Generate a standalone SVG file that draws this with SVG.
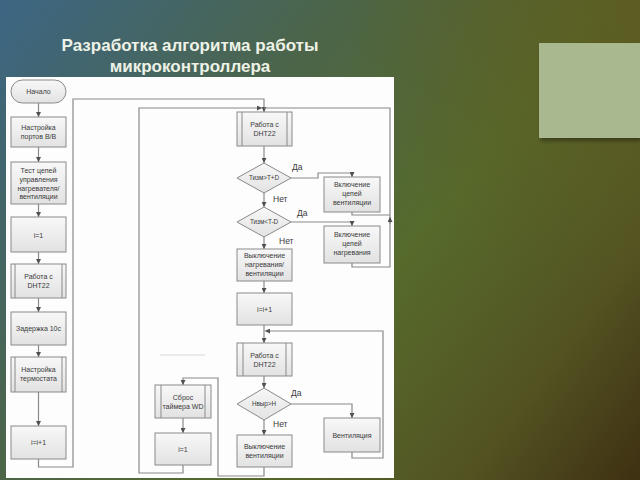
<svg xmlns="http://www.w3.org/2000/svg" width="640" height="480" viewBox="0 0 640 480">
<defs>
<linearGradient id="bg" gradientUnits="userSpaceOnUse" x1="0" y1="0" x2="640" y2="480">
<stop offset="0" stop-color="#3c6684"/>
<stop offset="0.35" stop-color="#4c6548"/>
<stop offset="0.6" stop-color="#566a2c"/>
<stop offset="0.82" stop-color="#535322"/>
<stop offset="1" stop-color="#3e3012"/>
</linearGradient>
<radialGradient id="tr" cx="640" cy="0" r="300" gradientUnits="userSpaceOnUse">
<stop offset="0" stop-color="#5e5a20" stop-opacity="0.8"/>
<stop offset="1" stop-color="#5e5a20" stop-opacity="0"/>
</radialGradient>
<linearGradient id="box" x1="0" y1="0" x2="0" y2="1">
<stop offset="0" stop-color="#f8f8f8"/>
<stop offset="1" stop-color="#e2e2e2"/>
</linearGradient>
<marker id="ah" viewBox="0 0 10 10" refX="10" refY="5" markerWidth="5" markerHeight="5" markerUnits="userSpaceOnUse" orient="auto">
<path d="M0,0 L10,5 L0,10 z" fill="#505050"/>
</marker>
<filter id="sh" x="-10%" y="-10%" width="130%" height="130%">
<feDropShadow dx="2" dy="3" stdDeviation="2" flood-color="#000" flood-opacity="0.35"/>
</filter>
</defs>
<style>
.n{fill:url(#box);stroke:#8a8a8a;stroke-width:1}
.il{stroke:#8a8a8a;stroke-width:1;fill:none}
.c{fill:none;stroke:#8a8a8a;stroke-width:1.2}
.t{font-family:"Liberation Sans",Arial,sans-serif;font-size:7px;fill:#3a3a3a;text-anchor:middle}
.d{font-size:6.3px}
.lb{font-family:"Liberation Sans",Arial,sans-serif;font-size:8.5px;fill:#3a3a3a}
.title{font-family:"Liberation Sans",Arial,sans-serif;font-size:17px;font-weight:bold;fill:#eef2e6;text-anchor:middle}
</style>
<rect x="0" y="0" width="640" height="480" fill="url(#bg)"/>
<rect x="0" y="0" width="640" height="480" fill="url(#tr)"/>
<rect x="539" y="43" width="101" height="95" fill="#a9b88f" filter="url(#sh)"/>
<text class="title" x="190" y="51">Разработка алгоритма работы</text>
<text class="title" x="190" y="72">микроконтроллера</text>
<rect x="6" y="77" width="388" height="401" fill="#fdfdfd"/>
<line x1="160" y1="355" x2="205" y2="355" stroke="#d8d8d8" stroke-width="1"/>

<g id="connectors">
<path class="c" d="M38.5,103 V117" marker-end="url(#ah)"/>
<path class="c" d="M38.5,147 V162" marker-end="url(#ah)"/>
<path class="c" d="M38.5,204 V217" marker-end="url(#ah)"/>
<path class="c" d="M38.5,252 V264" marker-end="url(#ah)"/>
<path class="c" d="M38.5,298 V312" marker-end="url(#ah)"/>
<path class="c" d="M38.5,345 V357" marker-end="url(#ah)"/>
<path class="c" d="M38.5,392 V426" marker-end="url(#ah)"/>
<path class="c" d="M38.5,459 V467 H73 V99 H264 V112" marker-end="url(#ah)"/>
<path class="c" d="M183,465 V473 H139 V108 H262" marker-end="url(#ah)"/>
<path class="c" d="M352,263 V267 H390 V108 H264"/>
<path class="c" d="M352,212 V215 H390"/>
<path class="c" d="M390,224 V217" marker-end="url(#ah)"/>
<path class="c" d="M264,146 V163" marker-end="url(#ah)"/>
<path class="c" d="M291,178 H318 V173 H352 V177" marker-end="url(#ah)"/>
<path class="c" d="M264,193 V207" marker-end="url(#ah)"/>
<path class="c" d="M291,222 H352 V226" marker-end="url(#ah)"/>
<path class="c" d="M264,237 V249" marker-end="url(#ah)"/>
<path class="c" d="M264,281 V293" marker-end="url(#ah)"/>
<path class="c" d="M264,325 V343" marker-end="url(#ah)"/>
<path class="c" d="M352,452 V458 H383 V331 H265" marker-end="url(#ah)"/>
<path class="c" d="M264,376 V388" marker-end="url(#ah)"/>
<path class="c" d="M291,404 H352 V418" marker-end="url(#ah)"/>
<path class="c" d="M264,420 V435" marker-end="url(#ah)"/>
<path class="c" d="M264,467 V476 H218 V378 H183 V385" marker-end="url(#ah)"/>
<path class="c" d="M183,418 V433" marker-end="url(#ah)"/>
<text class="lb" x="292" y="170">Да</text>
<text class="lb" x="273" y="202">Нет</text>
<text class="lb" x="297" y="216">Да</text>
<text class="lb" x="279" y="244">Нет</text>
<text class="lb" x="291" y="396">Да</text>
<text class="lb" x="273" y="427">Нет</text>
</g>

<g id="start">
<rect class="n" x="11" y="80" width="55" height="23" rx="11.5"/>
<text class="t" x="38.5" y="94">Начало</text>
</g>
<g id="ports">
<rect class="n" x="11" y="117" width="55" height="30"/>
<text class="t" x="38.5" y="130">Настройка<tspan x="38.5" dy="9">портов В/В</tspan></text>
</g>
<g id="test">
<rect class="n" x="11" y="162" width="55" height="42"/>
<text class="t" x="38.5" y="173">Тест цепей<tspan x="38.5" dy="8.8">управления</tspan><tspan x="38.5" dy="8.8">нагревателя/</tspan><tspan x="38.5" dy="8.8">вентиляции</tspan></text>
</g>
<g id="i1a">
<rect class="n" x="11" y="217" width="55" height="35"/>
<text class="t" x="38.5" y="237.5">i=1</text>
</g>
<g id="dht1">
<rect class="n" x="11" y="264" width="55" height="34"/>
<line class="il" x1="15" y1="264" x2="15" y2="298"/>
<line class="il" x1="62" y1="264" x2="62" y2="298"/>
<text class="t" x="38.5" y="279">Работа с<tspan x="38.5" dy="9">DHT22</tspan></text>
</g>
<g id="delay">
<rect class="n" x="11" y="312" width="55" height="33"/>
<text class="t" x="38.5" y="331">Задержка 10с</text>
</g>
<g id="thermo">
<rect class="n" x="11" y="357" width="55" height="35"/>
<line class="il" x1="15" y1="357" x2="15" y2="392"/>
<line class="il" x1="62" y1="357" x2="62" y2="392"/>
<text class="t" x="38.5" y="372">Настройка<tspan x="38.5" dy="9">термостата</tspan></text>
</g>
<g id="inc1">
<rect class="n" x="11" y="426" width="55" height="33"/>
<text class="t" x="38.5" y="445">i=i+1</text>
</g>

<g id="dht2">
<rect class="n" x="237" y="112" width="55" height="34"/>
<line class="il" x1="242" y1="112" x2="242" y2="146"/>
<line class="il" x1="287" y1="112" x2="287" y2="146"/>
<text class="t" x="264.5" y="127">Работа с<tspan x="264.5" dy="9">DHT22</tspan></text>
</g>
<g id="dec1">
<polygon class="n" points="237,178 264,163 291,178 264,193"/>
<text class="t d" x="264" y="180.3">Тизм&gt;T+D</text>
</g>
<g id="venton">
<rect class="n" x="324" y="177" width="56" height="35"/>
<text class="t" x="352" y="187">Включение<tspan x="352" dy="9">цепей</tspan><tspan x="352" dy="9">вентиляции</tspan></text>
</g>
<g id="dec2">
<polygon class="n" points="237,222 264,207 291,222 264,237"/>
<text class="t d" x="264" y="224.3">Тизм&lt;T-D</text>
</g>
<g id="heaton">
<rect class="n" x="324" y="226" width="56" height="37"/>
<text class="t" x="352" y="237">Включение<tspan x="352" dy="9">цепей</tspan><tspan x="352" dy="9">нагревания</tspan></text>
</g>
<g id="alloff">
<rect class="n" x="237" y="249" width="55" height="32"/>
<text class="t" x="264.5" y="258">Выключение<tspan x="264.5" dy="9">нагревания/</tspan><tspan x="264.5" dy="9">вентиляции</tspan></text>
</g>
<g id="inc2">
<rect class="n" x="237" y="293" width="55" height="32"/>
<text class="t" x="264.5" y="311.5">i=i+1</text>
</g>
<g id="dht3">
<rect class="n" x="237" y="343" width="55" height="33"/>
<line class="il" x1="243" y1="343" x2="243" y2="376"/>
<line class="il" x1="286" y1="343" x2="286" y2="376"/>
<text class="t" x="264.5" y="357.5">Работа с<tspan x="264.5" dy="9">DHT22</tspan></text>
</g>
<g id="dec3">
<polygon class="n" points="237,404 264,388 291,404 264,420"/>
<text class="t d" x="264" y="406.3">Нвыр&gt;H</text>
</g>
<g id="vent">
<rect class="n" x="324" y="418" width="56" height="34"/>
<text class="t" x="352" y="437.5">Вентиляция</text>
</g>
<g id="ventoff">
<rect class="n" x="237" y="435" width="55" height="32"/>
<text class="t" x="264.5" y="449">Выключение<tspan x="264.5" dy="9">вентиляции</tspan></text>
</g>
<g id="wdreset">
<rect class="n" x="155" y="385" width="56" height="33"/>
<line class="il" x1="161" y1="385" x2="161" y2="418"/>
<line class="il" x1="205" y1="385" x2="205" y2="418"/>
<text class="t" x="183" y="399.5">Сброс<tspan x="183" dy="9">таймера WD</tspan></text>
</g>
<g id="i1b">
<rect class="n" x="155" y="433" width="56" height="32"/>
<text class="t" x="183" y="451.5">i=1</text>
</g>
</svg>
